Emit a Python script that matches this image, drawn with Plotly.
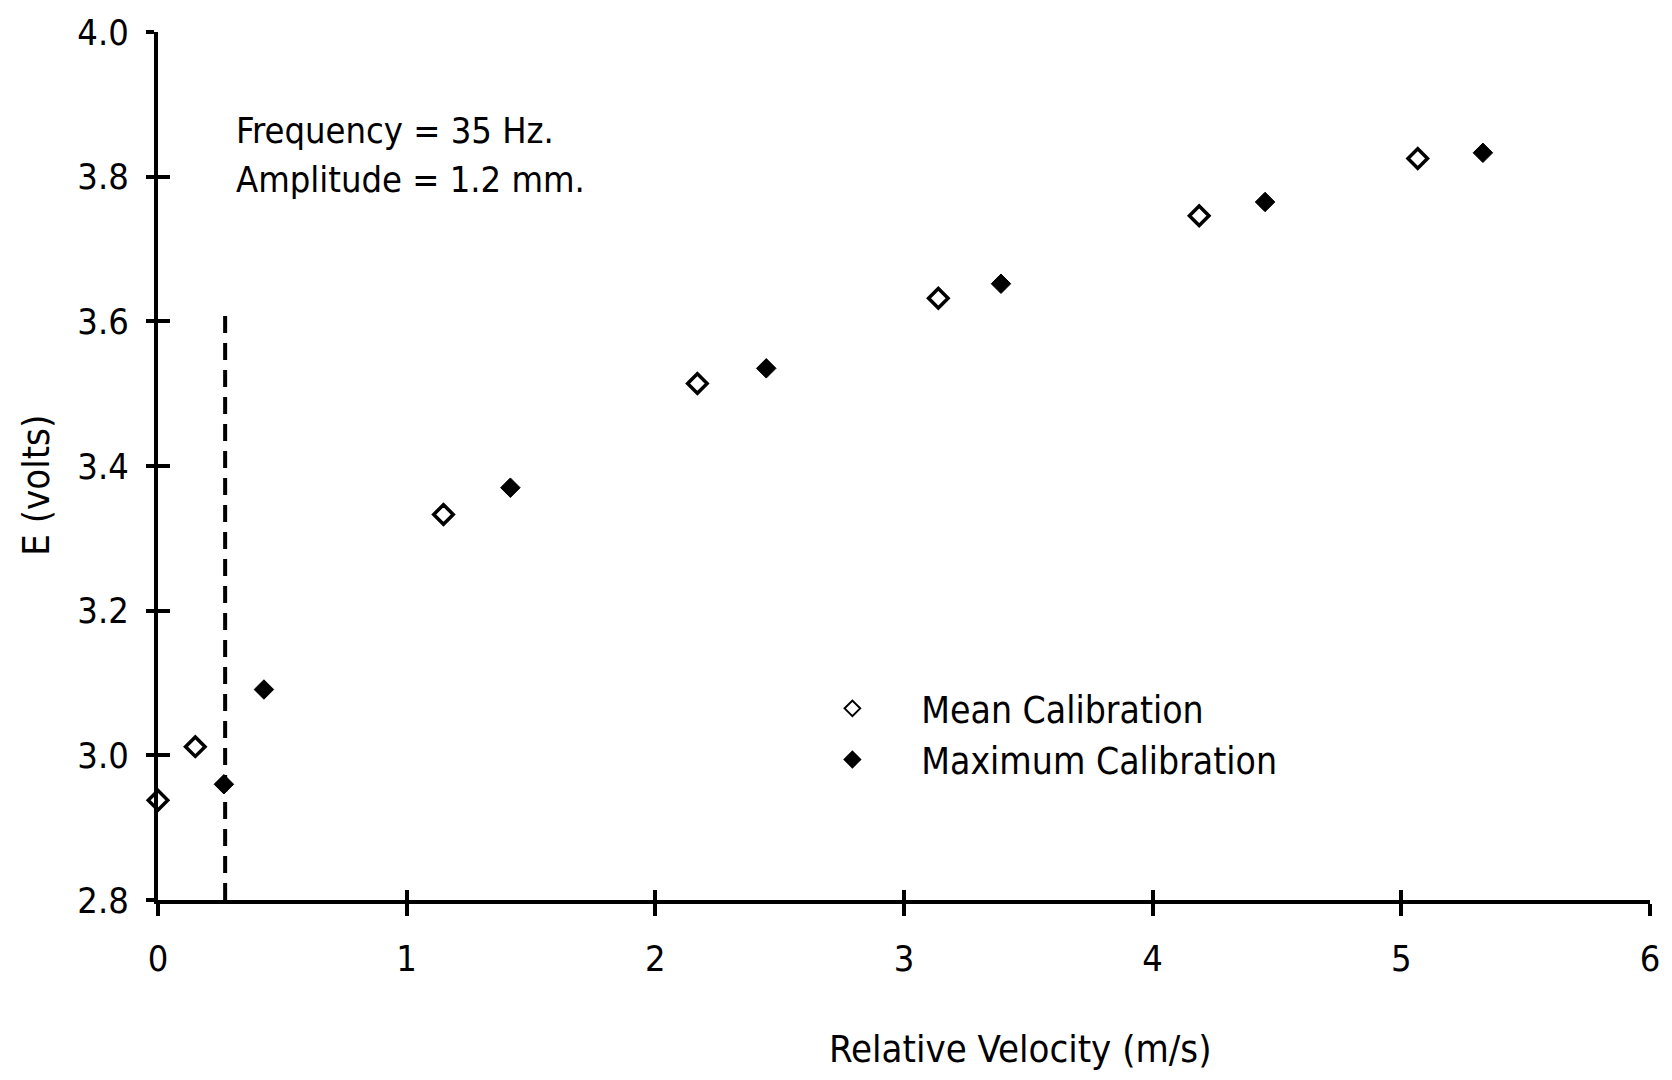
import plotly.graph_objects as go

# Calibration data: hot-film output voltage vs relative velocity
mean_velocity = [0.0, 0.15, 1.148, 2.169, 3.138, 4.187, 5.066]
mean_voltage = [2.938, 3.012, 3.333, 3.514, 3.632, 3.746, 3.825]
max_velocity = [0.265, 0.426, 1.417, 2.446, 3.390, 4.452, 5.328]
max_voltage = [2.960, 3.091, 3.370, 3.535, 3.652, 3.765, 3.833]

x_ticks = [0, 1, 2, 3, 4, 5, 6]
x_tick_labels = ["0", "1", "2", "3", "4", "5", "6"]
y_ticks = [2.8, 3.0, 3.2, 3.4, 3.6, 3.8, 4.0]
y_tick_labels = ["2.8", "3.0", "3.2", "3.4", "3.6", "3.8", "4.0"]

# Vertical dashed marker (velocity of oscillation amplitude)
cutoff_velocity = 0.27
cutoff_top = 3.61

FONT = "DejaVu Sans Condensed, DejaVu Sans, sans-serif"
PAD = "\u00a0" * 4 + "\u2009"

fig = go.Figure()

fig.add_trace(go.Scatter(
    x=mean_velocity, y=mean_voltage, mode="markers",
    name=PAD + "Mean Calibration",
    marker=dict(symbol="diamond-open", size=15, color="black",
                line=dict(width=3.5, color="black")),
    cliponaxis=False,
))
fig.add_trace(go.Scatter(
    x=max_velocity, y=max_voltage, mode="markers",
    name=PAD + "Maximum Calibration",
    marker=dict(symbol="diamond", size=15, color="black",
                line=dict(width=1, color="black")),
    cliponaxis=False,
))
# empty trace that activates the overlay axes carrying the inner tick halves
fig.add_trace(go.Scatter(
    x=[None], y=[None], xaxis="x2", yaxis="y2", mode="markers",
    showlegend=False, hoverinfo="skip",
))

fig.add_shape(type="line", xref="x", yref="y",
              x0=cutoff_velocity, x1=cutoff_velocity,
              y0=y_ticks[0], y1=cutoff_top,
              line=dict(color="black", width=4, dash="17px,10px"))

axis_common = dict(showgrid=False, zeroline=False, color="black",
                   tickfont=dict(family=FONT, size=36, color="black"))

fig.update_layout(
    width=1672, height=1080,
    paper_bgcolor="white", plot_bgcolor="white",
    margin=dict(l=158, r=22, t=25, b=180),
    font=dict(family=FONT, color="black"),
    xaxis=dict(range=[0, 6], tickvals=x_ticks, ticktext=x_tick_labels,
               showline=True, linewidth=4, linecolor="black",
               ticks="outside", ticklen=12, tickwidth=4, tickcolor="black",
               ticklabelstandoff=12, **axis_common),
    yaxis=dict(range=[2.8, 4.0], tickvals=y_ticks, ticktext=y_tick_labels,
               showline=True, linewidth=4, linecolor="black",
               ticks="outside", ticklen=8, tickwidth=4, tickcolor="black",
               ticklabelstandoff=10, **axis_common),
    xaxis2=dict(range=[0, 6], tickvals=x_ticks, overlaying="x", anchor="y2",
                side="bottom",
                ticks="inside", ticklen=10, tickwidth=4, tickcolor="black",
                showticklabels=False, showline=False, showgrid=False,
                zeroline=False),
    yaxis2=dict(range=[2.8, 4.0], tickvals=y_ticks, overlaying="y", anchor="x2",
                side="left",
                ticks="inside", ticklen=12, tickwidth=4, tickcolor="black",
                showticklabels=False, showline=False, showgrid=False,
                zeroline=False),
    legend=dict(x=0.452, y=0.256, xanchor="left", yanchor="top",
                bgcolor="rgba(0,0,0,0)", borderwidth=0,
                font=dict(family=FONT, size=37, color="black"),
                itemsizing="constant", tracegroupgap=0),
    showlegend=True,
)

fig.add_annotation(text="Relative Velocity (m/s)", xref="paper", yref="paper",
                   x=0.578, y=-0.172, xanchor="center", yanchor="middle",
                   showarrow=False, font=dict(family=FONT, size=38))
fig.add_annotation(text="E (volts)", xref="paper", yref="paper",
                   x=-0.082, y=0.478, xanchor="center", yanchor="middle",
                   textangle=-90, showarrow=False,
                   font=dict(family=FONT, size=38))
fig.add_annotation(text="Frequency = 35 Hz.", xref="paper", yref="paper",
                   x=0.051, y=0.886, xanchor="left", yanchor="middle",
                   showarrow=False, font=dict(family=FONT, size=36))
fig.add_annotation(text="Amplitude = 1.2 mm.", xref="paper", yref="paper",
                   x=0.051, y=0.830, xanchor="left", yanchor="middle",
                   showarrow=False, font=dict(family=FONT, size=36))

fig.write_html("out.html")
